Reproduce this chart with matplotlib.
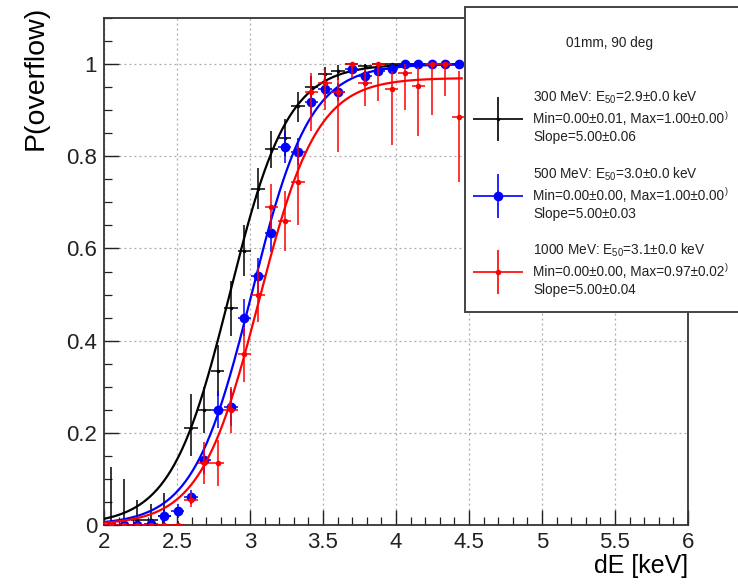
import numpy as np
import matplotlib
matplotlib.use("Agg")
import matplotlib.pyplot as plt
from matplotlib.ticker import MultipleLocator, FuncFormatter
from matplotlib.patches import Rectangle

plt.rcParams["font.family"] = ["Liberation Sans", "DejaVu Sans"]
plt.rcParams["mathtext.fontset"] = "custom"
plt.rcParams["mathtext.rm"] = "Liberation Sans"
plt.rcParams["mathtext.it"] = "Liberation Sans:italic"

# ---- data: overflow probability per dE bin ----
de_bins = [2.046, 2.138, 2.229, 2.321, 2.413, 2.504, 2.596, 2.688, 2.779,
           2.871, 2.962, 3.054, 3.146, 3.238, 3.329, 3.421, 3.513, 3.604,
           3.696, 3.788, 3.879, 3.971, 4.063, 4.154, 4.246, 4.338, 4.429]
de_halfwidth = 0.046

p300 = [0.0, 0.0, 0.01, 0.01, 0.02, 0.0, 0.21, 0.25, 0.335, 0.47, 0.595, 0.73,
        0.815, 0.84, 0.91, 0.95, 0.978, 0.985, 1.0, 0.995, 1.0, 1.0, 1.0,
        1.0, 1.0, 1.0, 1.0]
p300_lo = [0.0, 0.0, 0.01, 0.01, 0.02, 0.0, 0.06, 0.05, 0.055, 0.06, 0.055,
           0.045, 0.04, 0.04, 0.035, 0.03, 0.02, 0.02, 0.01, 0.012, 0.01,
           0.01, 0.01, 0.01, 0.01, 0.01, 0.01]
p300_hi = [0.125, 0.10, 0.045, 0.035, 0.05, 0.008, 0.075, 0.05, 0.055, 0.06,
           0.055, 0.045, 0.04, 0.04, 0.03, 0.025, 0.015, 0.012, 0.0, 0.005,
           0.0, 0.0, 0.0, 0.0, 0.0, 0.0, 0.0]

p500 = [0.0, 0.0, 0.0, 0.003, 0.02, 0.03, 0.06, 0.14, 0.25, 0.255, 0.45, 0.54,
        0.633, 0.82, 0.81, 0.917, 0.945, 0.94, 0.99, 0.975, 0.985, 0.99, 1.0,
        1.0, 1.0, 1.0, 1.0]
p500_lo = [0.0, 0.0, 0.0, 0.003, 0.015, 0.015, 0.015, 0.03, 0.04, 0.04, 0.04,
           0.04, 0.04, 0.035, 0.03, 0.025, 0.02, 0.02, 0.01, 0.01, 0.01, 0.01,
           0.005, 0.005, 0.005, 0.005, 0.005]
p500_hi = [0.005, 0.005, 0.005, 0.005, 0.015, 0.015, 0.015, 0.03, 0.04, 0.04,
           0.04, 0.04, 0.04, 0.035, 0.03, 0.025, 0.02, 0.02, 0.01, 0.01, 0.01,
           0.01, 0.0, 0.0, 0.0, 0.0, 0.0]

p1000 = [0.0, 0.0, 0.0, 0.0, 0.0, 0.0, 0.055, 0.135, 0.135, 0.25, 0.37, 0.50,
         0.69, 0.66, 0.745, 0.94, 0.96, 0.94, 1.0, 0.96, 1.0, 0.945, 0.98,
         0.953, 1.0, 1.0, 0.885]
p1000_lo = [0.003, 0.003, 0.003, 0.003, 0.003, 0.003, 0.015, 0.045, 0.05, 0.05,
            0.06, 0.06, 0.05, 0.065, 0.095, 0.085, 0.06, 0.13, 0.03, 0.05,
            0.08, 0.12, 0.08, 0.11, 0.11, 0.07, 0.14]
p1000_hi = [0.003, 0.003, 0.003, 0.003, 0.003, 0.003, 0.015, 0.045, 0.05, 0.05,
            0.06, 0.06, 0.05, 0.065, 0.08, 0.04, 0.03, 0.03, 0.0, 0.03, 0.0,
            0.04, 0.02, 0.04, 0.0, 0.0, 0.1]

# sigmoid fit results: Min, Max, E50, Slope and their uncertainties
beam_labels = ["300 MeV", "500 MeV", "1000 MeV"]
fit_min = [0.00, 0.00, 0.00]
fit_min_err = [0.01, 0.00, 0.00]
fit_max = [1.00, 1.00, 0.97]
fit_max_err = [0.00, 0.00, 0.02]
fit_e50 = [2.86, 3.01, 3.06]
fit_e50_err = [0.0, 0.0, 0.0]
fit_slope = [5.00, 5.00, 5.00]
fit_slope_err = [0.06, 0.03, 0.04]
fit_range = (2.0, 4.45)

header = "01mm, 90 deg"
xlabel = "dE [keV]"
ylabel = "P(overflow)"

colors = ["#000000", "#0000ff", "#ff0000"]
msizes = [2.5, 7, 4]

W, H = 738, 584
fig = plt.figure(figsize=(W / 100, H / 100), dpi=100)
ax = fig.add_axes([104 / W, 1 - 525 / H, 584 / W, 507 / H])

series = [(p300, p300_lo, p300_hi), (p500, p500_lo, p500_hi),
          (p1000, p1000_lo, p1000_hi)]


def sigmoid(x, lo, hi, e50, k):
    return lo + (hi - lo) / (1.0 + np.exp(-k * (x - e50)))


xf = np.linspace(fit_range[0], fit_range[1], 400)
for i, (vals, lo, hi) in enumerate(series):
    ax.errorbar(de_bins, vals, yerr=[lo, hi], xerr=de_halfwidth, fmt="o",
                color=colors[i], ms=msizes[i], mew=0, elinewidth=1.1,
                capsize=2.2, capthick=1.0, zorder=3 + i)
    ax.plot(xf, sigmoid(xf, fit_min[i], fit_max[i], fit_e50[i], fit_slope[i]),
            color=colors[i], lw=1.6, zorder=3 + i)

ax.set_xlim(2, 6)
ax.set_ylim(0, 1.1)
ax.xaxis.set_major_locator(MultipleLocator(0.5))
ax.xaxis.set_minor_locator(MultipleLocator(0.1))
ax.yaxis.set_major_locator(MultipleLocator(0.2))
ax.yaxis.set_minor_locator(MultipleLocator(0.05))
fmt = FuncFormatter(lambda v, p: "%g" % round(v, 3))
ax.xaxis.set_major_formatter(fmt)
ax.yaxis.set_major_formatter(fmt)
ax.tick_params(which="both", direction="in", top=False, right=False,
               labelsize=16, colors="#222222")
ax.tick_params(which="major", length=11, width=1.0, pad=5)
ax.tick_params(which="minor", length=5.5, width=0.9)
ax.grid(True, which="major", color="#a8a8a8", lw=0.9, ls=(0, (1.5, 2.5)))
ax.set_axisbelow(True)
for s in ax.spines.values():
    s.set_linewidth(1.3)
    s.set_color("#333333")

fig.text(688 / W, 1 - 566 / H, xlabel, ha="right", va="center", fontsize=18)
fig.text(36 / W, 1 - 150 / H, ylabel, ha="center", va="bottom",
         rotation=90, fontsize=20.5)

# legend panel (pixel coordinates, runs past the right edge)
lg = fig.add_axes([0, 0, 1, 1], facecolor="none")
lg.set_xlim(0, W)
lg.set_ylim(H, 0)
lg.axis("off")
lg.add_patch(Rectangle((465, 7), 300, 305, facecolor="white",
                       edgecolor="#444444", lw=1.4, zorder=1))
lg.text(609, 43, header, ha="center", va="center", fontsize=9.8,
        color="#222222", zorder=2)
entry_y = [119, 196, 272]
for i in range(3):
    cy = entry_y[i]
    lg.errorbar([498], [cy], yerr=22, xerr=25, fmt="o", color=colors[i],
                ms=msizes[i], mew=0, elinewidth=1.2, capsize=4, capthick=1.2,
                zorder=3)
    lines = [
        "%s: E$_{50}$=%.1f\u00b1%.1f keV" % (beam_labels[i], fit_e50[i],
                                          fit_e50_err[i]),
        "Min=%.2f\u00b1%.2f, Max=%.2f\u00b1%.2f" % (fit_min[i], fit_min_err[i],
                                                  fit_max[i], fit_max_err[i]),
        "Slope=%.2f\u00b1%.2f" % (fit_slope[i], fit_slope_err[i]),
    ]
    for j, (t, dy) in enumerate(zip(lines, [-22, 0, 18])):
        lg.text(533, cy + dy, t, ha="left", va="center", fontsize=9.8,
                color="#222222", zorder=2)
    lg.text(725, cy - 4, ")", ha="left", va="center", fontsize=6.5,
            color="#222222", zorder=2)

fig.savefig("out.png", dpi=100)
